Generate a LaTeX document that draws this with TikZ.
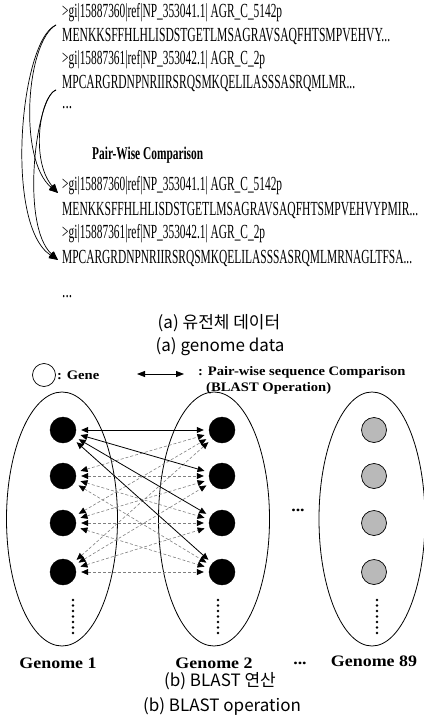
\documentclass[tikz,border=0pt]{standalone}
\usepackage{fontspec}
\usepackage{graphicx}
\usetikzlibrary{arrows.meta,shapes.geometric}
\newfontfamily\seqfont{Liberation Serif}
\newfontfamily\legfont[FakeStretch=1.12]{Liberation Serif}
\newfontfamily\capfont{Noto Sans CJK KR}
\newcommand\fitseq[2]{\resizebox{#1}{\height}{#2}}
\begin{document}
\begin{tikzpicture}[x=1pt,y=-1pt,
  seq/.style={anchor=west,inner sep=0pt,font=\seqfont\fontsize{20}{20}\selectfont},
  captext/.style={inner sep=0pt,font=\capfont\fontsize{17}{17}\selectfont},
  leg/.style={anchor=west,inner sep=0pt,font=\legfont\bfseries\fontsize{13}{13}\selectfont},
  glab/.style={inner sep=0pt,font=\legfont\bfseries\fontsize{16}{16}\selectfont},
  curvearrow/.style={line width=0.7pt,-{Triangle[length=9pt,width=7pt]}},
  genome/.style={draw,ellipse,line width=0.8pt,minimum width=111pt,minimum height=254pt,inner sep=0pt},
  gene/.style={circle,fill=black,draw=black,minimum size=26pt,inner sep=0pt},
  gene3/.style={circle,fill=gray!55,draw=black,line width=0.7pt,minimum size=25pt,inner sep=0pt},
  solidlink/.style={line width=0.8pt,{Triangle[length=7pt,width=6pt]}-{Triangle[length=7pt,width=6pt]},shorten <=5pt,shorten >=5pt},
  dashlink/.style={line width=0.6pt,gray,densely dashed,{Triangle[length=7pt,width=6pt,black]}-{Triangle[length=7pt,width=6pt,black]},shorten <=5pt,shorten >=5pt},
  dot/.style={circle,fill=black,inner sep=0pt,minimum size=2.8pt}]
\useasboundingbox (0,0) rectangle (423,727);

% ---- (a) genome data ----
\node[seq] (t1) at (62,13) {\fitseq{220pt}{>gi|15887360|ref|NP\_353041.1| AGR\_C\_5142p}};
\node[seq] (t2) at (62,37) {\fitseq{328pt}{MENKKSFFHLHLISDSTGETLMSAGRAVSAQFHTSMPVEHVY...}};
\node[seq] (t3) at (62,60) {\fitseq{203pt}{>gi|15887361|ref|NP\_353042.1| AGR\_C\_2p}};
\node[seq] (t4) at (62,84) {\fitseq{293pt}{MPCARGRDNPNRIIRSRQSMKQELILASSSASRQMLMR...}};
\node[seq] (t5) at (62,108) {\fitseq{10pt}{...}};
\node[seq,font=\seqfont\bfseries\fontsize{18}{18}\selectfont] (pw) at (92,155) {\fitseq{111pt}{Pair-Wise Comparison}};
\node[seq] (t6) at (62,186) {\fitseq{220pt}{>gi|15887360|ref|NP\_353041.1| AGR\_C\_5142p}};
\node[seq] (t7) at (62,210) {\fitseq{356pt}{MENKKSFFHLHLISDSTGETLMSAGRAVSAQFHTSMPVEHVYPMIR...}};
\node[seq] (t8) at (62,234) {\fitseq{203pt}{>gi|15887361|ref|NP\_353042.1| AGR\_C\_2p}};
\node[seq] (t9) at (62,258) {\fitseq{350pt}{MPCARGRDNPNRIIRSRQSMKQELILASSSASRQMLMRNAGLTFSA...}};
\node[seq] (t10) at (62,297) {\fitseq{10pt}{...}};

\coordinate (s1) at (56,25);
\coordinate (s2) at (56,90);
\coordinate (e1) at (58,193);
\coordinate (e2) at (58,260);
\draw[curvearrow] (s1) .. controls (20,40) and (4,225) .. (e2);
\draw[curvearrow] (s1) .. controls (26,42) and (18,160) .. (e1);
\draw[curvearrow] (s2) .. controls (40,96) and (30,160) .. (e1);
\draw[curvearrow] (s2) .. controls (36,96) and (20,225) .. (e2);

\node[captext] (capa1) at (219,323) {(a) 유전체 데이터};
\node[captext] (capa2) at (220,347) {(a) genome data};

% ---- legend ----
\node[circle,draw,line width=0.7pt,minimum size=23pt,inner sep=0pt] (lgc) at (44,375) {};
\node[leg] (lgt) at (57,375) {: Gene};
\coordinate (la) at (137,374);
\coordinate (lb) at (184,374);
\draw[line width=0.8pt,{Triangle[length=8pt,width=6pt]}-{Triangle[length=8pt,width=6pt]}] (la) -- (lb);
\node[leg] (lgp) at (198,372) {: Pair-wise sequence Comparison};
\node[leg] (lgb) at (206,388) {(BLAST Operation)};

% ---- genomes ----
\node[genome] (g1) at (62,519) {};
\node[genome] (g2) at (214,519) {};
\node[genome,minimum width=106pt] (g3) at (372,519) {};

\foreach \i/\y in {1/430,2/476,3/523,4/572}{
  \node[gene] (a\i) at (63,\y) {};
  \node[gene] (b\i) at (222,\y) {};
  \node[gene3] (c\i) at (374,\y) {};
}

\foreach \j in {1,...,4}{
  \foreach \i in {2,3,4}{
    \draw[dashlink] (a\i) -- (b\j);
  }
}
\foreach \j in {1,...,4}{
  \draw[solidlink] (a1) -- (b\j);
}

\foreach \x/\n in {73/d1,218/d2,377/d3}{
  \foreach \k in {0,...,6}{
    \node[dot] (\n\k) at (\x,600+5.5*\k) {};
  }
}

\node[glab] (dots) at (298,510) {...};

\node[glab] (gl1) at (58,663) {Genome 1};
\node[glab] (gl2) at (214,663) {Genome 2};
\node[glab] (gl3) at (300,663) {...};
\node[glab] (gl4) at (374,661) {Genome 89};

\node[captext] (capb1) at (220,681) {(b) BLAST 연산};
\node[captext] (capb2) at (222,706) {(b) BLAST operation};
\end{tikzpicture}
\end{document}
